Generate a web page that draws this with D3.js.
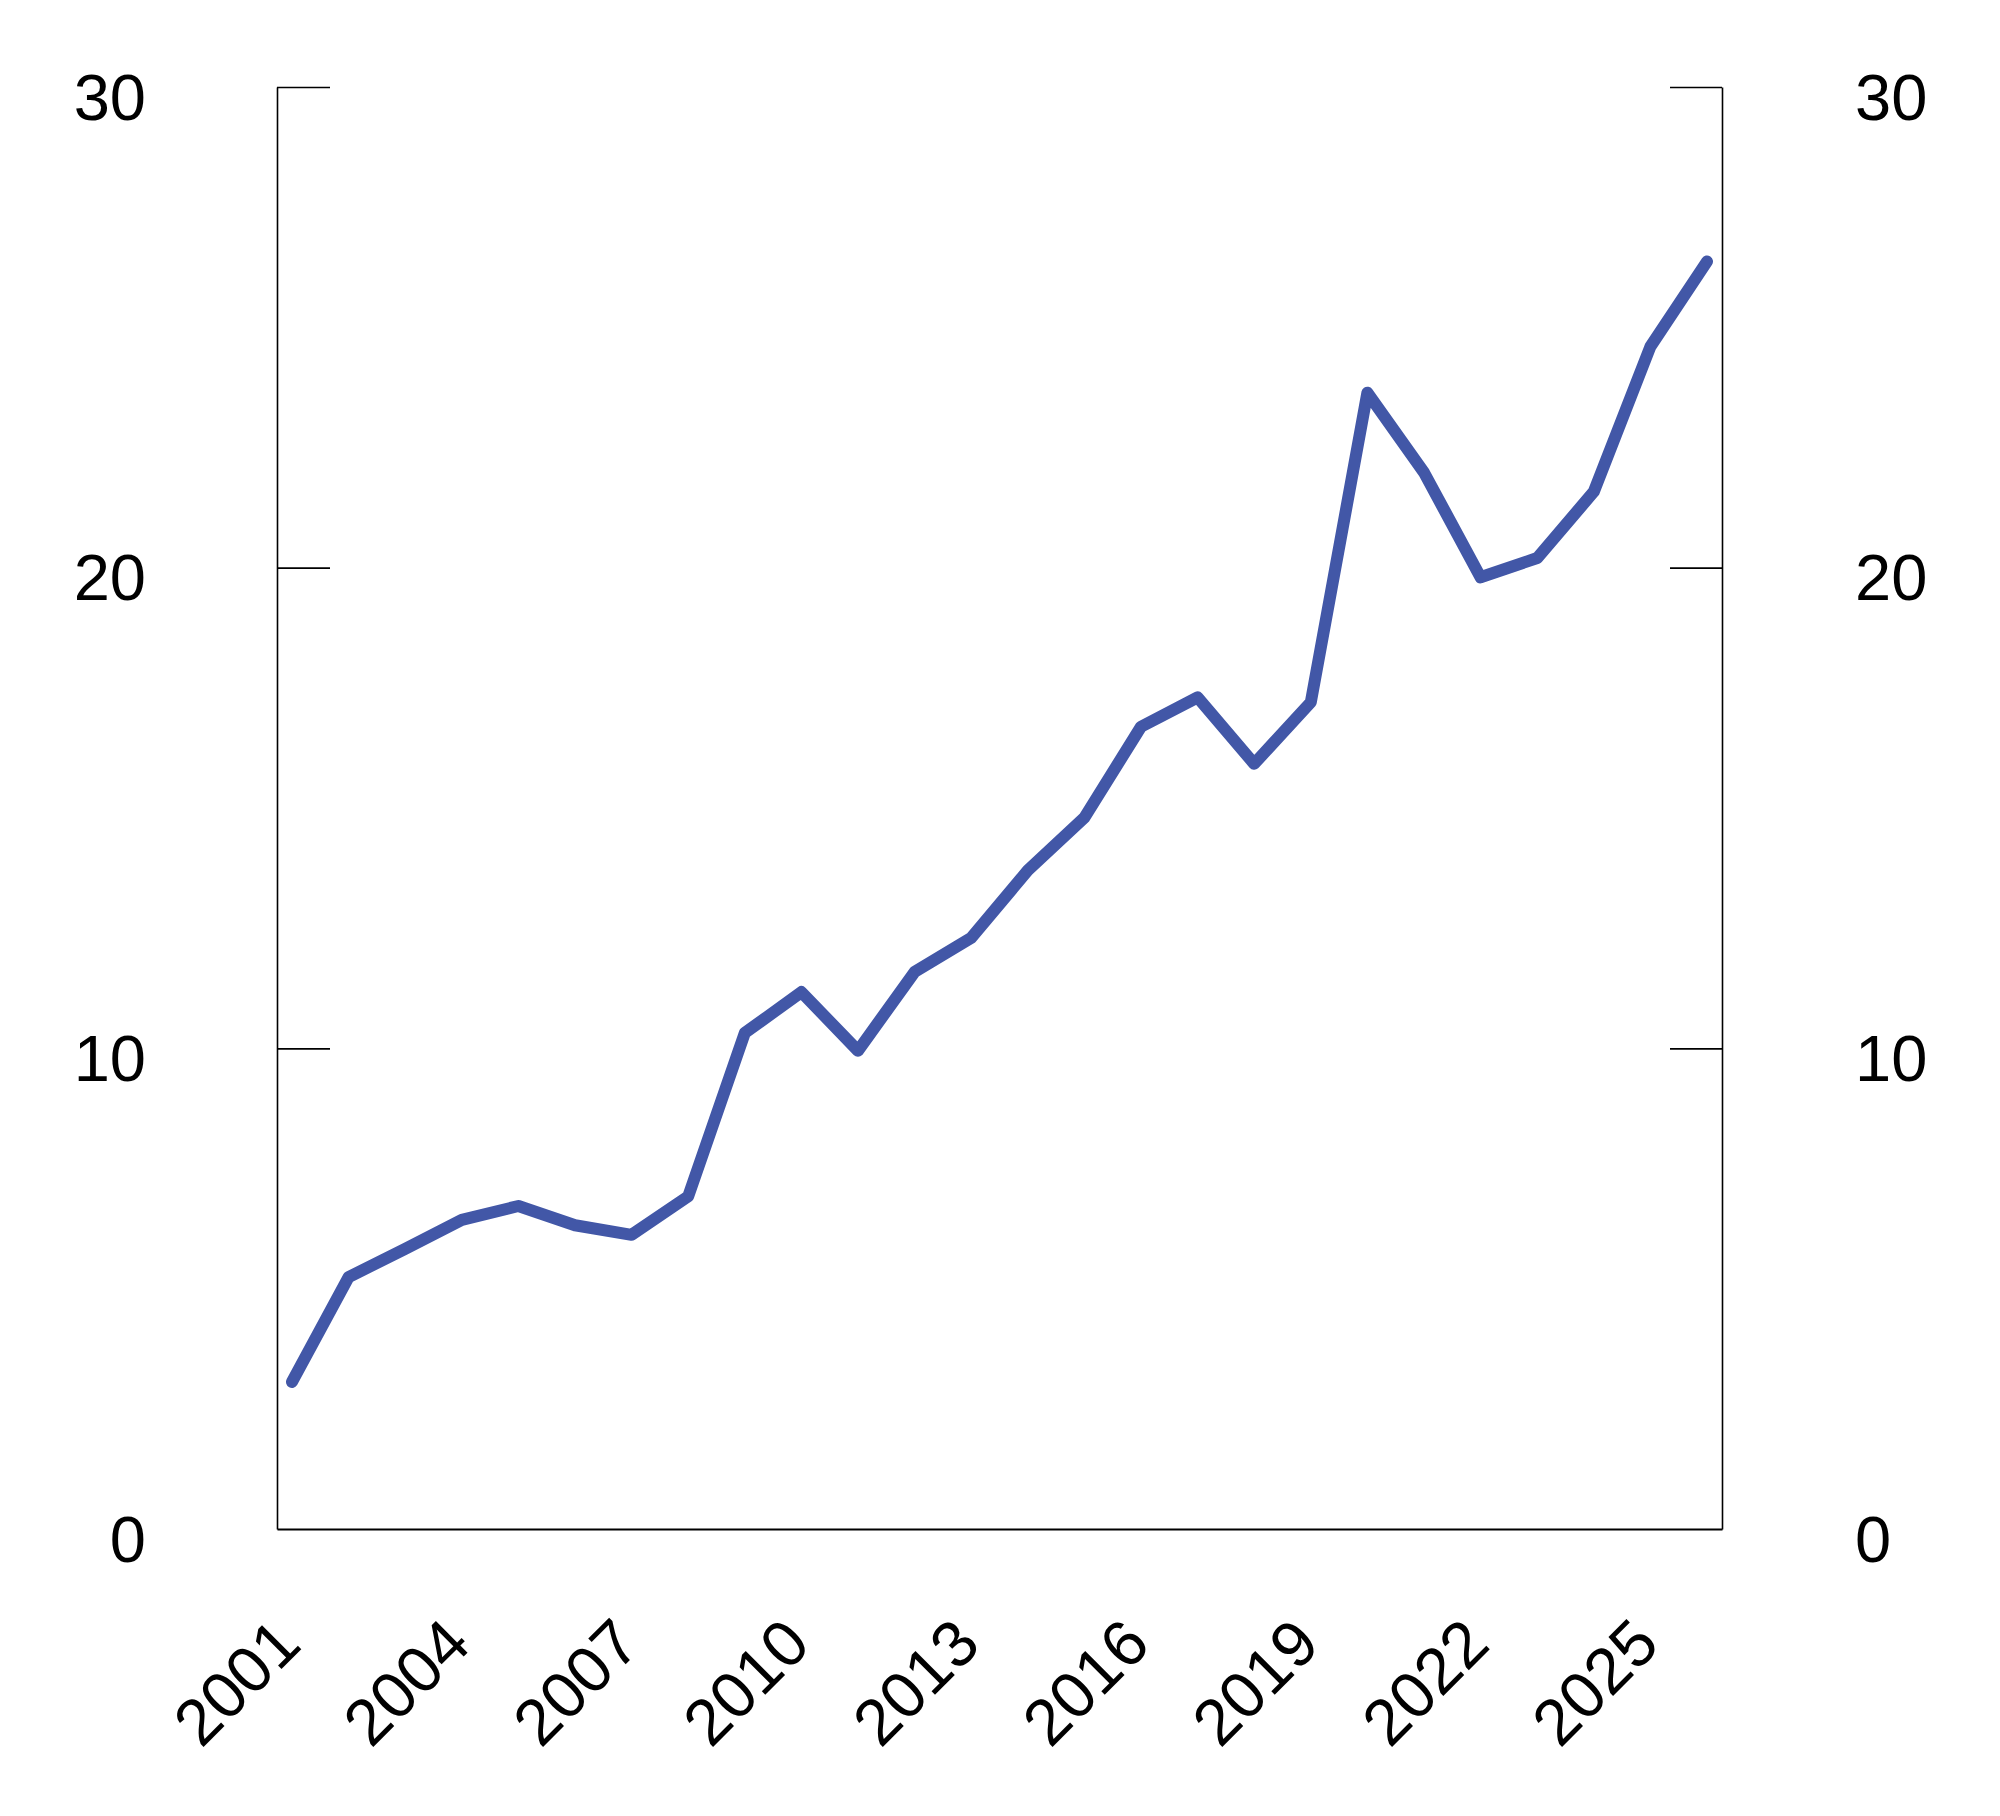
<!DOCTYPE html>
<html lang="en">
<head>
<meta charset="utf-8">
<script src="https://d3js.org/d3.v7.min.js"></script>
<style>
  body { margin: 0; background: #fff; }
  text { font-family: "Liberation Sans", Arial, sans-serif; }
</style>
</head>
<body>
<script>
// data
const years = d3.range(2001, 2027);
const values = [3.06, 5.24, 5.83, 6.43, 6.72, 6.32, 6.12, 6.92, 10.32, 11.17,
                9.95, 11.59, 12.30, 13.70, 14.80, 16.69, 17.30, 15.92, 17.20, 23.64,
                21.98, 19.80, 20.20, 21.58, 24.60, 26.37];
const xTickYears = [2001, 2004, 2007, 2010, 2013, 2016, 2019, 2022, 2025];
const yTicks = [0, 10, 20, 30];

const width = 2000, height = 1816;
const plotLeft = 277, plotRight = 1722, plotTop = 87, plotBottom = 1529;

const svg = d3.select("body").append("svg")
    .attr("width", width)
    .attr("height", height);

const x = d3.scalePoint()
    .domain(years)
    .range([plotLeft, plotRight])
    .padding(0.265);

const y = d3.scaleLinear()
    .domain([0, 30])
    .range([plotBottom, plotTop]);

// left axis, ticks point inward
const yLeft = svg.append("g")
    .attr("transform", `translate(${plotLeft},0)`)
    .call(d3.axisLeft(y).tickValues(yTicks).tickSizeInner(-53).tickSizeOuter(0));

// right axis, ticks point inward
const yRight = svg.append("g")
    .attr("transform", `translate(${plotRight},0)`)
    .call(d3.axisRight(y).tickValues(yTicks).tickSizeInner(-52).tickSizeOuter(0));

[yLeft, yRight].forEach(g => {
    g.attr("font-family", null);
    g.select(".domain").attr("stroke", "#000").attr("stroke-width", 1.6);
    g.selectAll(".tick line").attr("stroke", "#000").attr("stroke-width", 1.6);
    g.selectAll(".tick text")
        .attr("font-size", 65)
        .attr("fill", "#000")
        .attr("dy", 0)
        .attr("y", 32);
});
yLeft.selectAll(".tick line").filter(d => d === 0).remove();
yRight.selectAll(".tick line").filter(d => d === 0).remove();
yLeft.selectAll(".tick text").attr("x", -131).attr("text-anchor", "end");
yRight.selectAll(".tick text").attr("x", 133).attr("text-anchor", "start");

// bottom axis: line only, rotated year labels
const xAxis = svg.append("g")
    .attr("transform", `translate(0,${plotBottom})`)
    .call(d3.axisBottom(x).tickValues(xTickYears).tickSize(0));
xAxis.attr("font-family", null);
xAxis.select(".domain").attr("stroke", "#000").attr("stroke-width", 1.8);
xAxis.selectAll(".tick text")
    .attr("font-size", 65)
    .attr("fill", "#000")
    .attr("text-anchor", "end")
    .attr("x", 0).attr("y", 0).attr("dy", 0)
    .attr("transform", "translate(11,118) rotate(-45)");

// the line
const line = d3.line()
    .x((d, i) => x(years[i]))
    .y(d => y(d));

svg.append("path")
    .datum(values)
    .attr("fill", "none")
    .attr("stroke", "#4257a7")
    .attr("stroke-width", 12)
    .attr("stroke-linejoin", "round")
    .attr("stroke-linecap", "round")
    .attr("d", line);
</script>
</body>
</html>
